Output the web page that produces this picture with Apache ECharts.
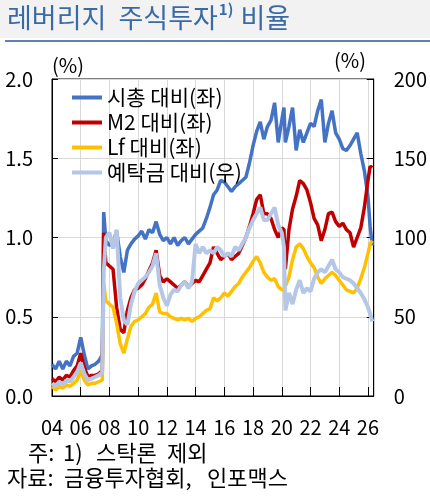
<!DOCTYPE html>
<html>
<head>
<meta charset="utf-8">
<script src="https://cdn.jsdelivr.net/npm/echarts@6/dist/echarts.min.js"></script>
<style>
html,body{margin:0;padding:0;background:#fff;}
#c{width:430px;height:499px;}
</style>
</head>
<body>
<div id="c"></div>
<script>
var dates = [
 2004.0,2004.25,2004.5,2004.75,
 2005.0,2005.25,2005.5,2005.75,
 2006.0,2006.25,2006.5,2006.75,
 2007.0,2007.25,2007.5,2007.6,2007.75,
 2008.0,2008.25,2008.5,2008.75,
 2009.0,2009.25,2009.5,2009.75,
 2010.0,2010.25,2010.5,2010.75,
 2011.0,2011.25,2011.5,2011.75,
 2012.0,2012.25,2012.5,2012.75,
 2013.0,2013.25,2013.5,2013.75,
 2014.0,2014.25,2014.5,2014.75,
 2015.0,2015.25,2015.5,2015.75,
 2016.0,2016.25,2016.5,2016.75,
 2017.0,2017.25,2017.5,2017.75,
 2018.0,2018.25,2018.5,2018.75,
 2019.0,2019.25,2019.5,2019.75,
 2020.0,2020.15,2020.25,2020.5,2020.75,
 2021.0,2021.25,2021.5,2021.75,
 2022.0,2022.25,2022.5,2022.75,
 2023.0,2023.25,2023.5,2023.75,
 2024.0,2024.25,2024.5,2024.75,
 2025.0,2025.25,2025.5,2025.75,
 2026.0,2026.15,2026.3
];
// 시총 대비(좌), %
var mktCap = [
 0.20,0.17,0.22,0.17,
 0.22,0.19,0.25,0.27,
 0.37,0.26,0.17,0.19,
 0.20,0.22,0.26,1.16,0.98,
 0.95,0.97,1.04,0.88,
 0.78,0.92,0.96,0.99,
 1.01,1.04,0.99,1.05,
 1.03,1.10,1.02,0.98,
 1.00,0.96,1.00,0.95,
 0.98,1.00,0.96,0.99,
 1.02,1.04,1.06,1.12,
 1.19,1.27,1.30,1.36,
 1.35,1.32,1.29,1.32,
 1.34,1.36,1.38,1.47,
 1.58,1.67,1.73,1.62,
 1.70,1.74,1.85,1.60,
 1.74,1.82,1.60,1.70,1.82,
 1.55,1.68,1.60,1.66,
 1.72,1.70,1.80,1.87,
 1.60,1.72,1.80,1.66,
 1.62,1.56,1.55,1.58,
 1.62,1.66,1.53,1.42,
 1.26,1.07,0.95
];
// M2 대비(좌), %
var m2 = [
 0.11,0.09,0.12,0.10,
 0.13,0.12,0.16,0.19,
 0.27,0.18,0.12,0.13,
 0.13,0.14,0.16,1.03,0.84,
 0.82,0.80,0.56,0.42,
 0.40,0.54,0.62,0.67,
 0.68,0.70,0.74,0.79,
 0.84,0.92,0.76,0.72,
 0.74,0.72,0.70,0.68,
 0.70,0.72,0.69,0.71,
 0.73,0.72,0.76,0.80,
 0.84,0.94,0.90,0.86,
 0.88,0.90,0.86,0.88,
 0.90,0.95,1.00,1.07,
 1.15,1.24,1.27,1.15,
 1.15,1.12,1.05,1.00,
 1.06,1.05,0.80,1.05,1.18,
 1.26,1.36,1.34,1.30,
 1.22,1.12,1.08,0.98,
 1.05,1.15,1.16,1.10,
 1.07,1.09,1.05,1.03,
 0.94,1.00,1.06,1.19,
 1.36,1.45,1.44
];
// Lf 대비(좌), %
var lf = [
 0.06,0.04,0.06,0.05,
 0.07,0.06,0.08,0.10,
 0.16,0.10,0.07,0.08,
 0.08,0.09,0.10,0.71,0.60,
 0.58,0.56,0.46,0.33,
 0.27,0.36,0.44,0.47,
 0.48,0.50,0.52,0.56,
 0.58,0.65,0.53,0.52,
 0.52,0.50,0.49,0.48,
 0.49,0.48,0.49,0.47,
 0.49,0.50,0.52,0.54,
 0.55,0.62,0.60,0.62,
 0.65,0.63,0.66,0.69,
 0.71,0.75,0.78,0.81,
 0.85,0.88,0.84,0.78,
 0.75,0.73,0.74,0.69,
 0.67,0.67,0.68,0.75,0.86,
 0.94,0.96,0.93,0.88,
 0.84,0.81,0.75,0.71,
 0.74,0.76,0.78,0.76,
 0.73,0.70,0.67,0.66,
 0.65,0.68,0.74,0.81,
 0.90,0.96,0.98
];
// 예탁금 대비(우), %
var deposit = [
 8,6,9,7,
 10,9,12,15,
 21,14,10,11,
 12,13,15,78,100,
 103,93,105,62,
 48,45,58,66,
 71,73,75,78,
 82,90,70,62,
 57,64,67,66,
 70,72,68,72,
 96,90,94,90,
 92,90,94,92,
 88,90,88,94,
 92,96,100,106,
 111,115,119,111,
 111,115,119,108,
 103,94,54,65,58,
 67,73,65,68,
 66,74,78,80,
 78,82,86,80,
 78,75,74,73,
 71,68,65,61,
 56,52,47
];
var seriesNames = ['시총 대비(좌)','M2 대비(좌)','Lf 대비(좌)','예탁금 대비(우)'];
var seriesColors = ['#4472C4','#C00000','#FFC000','#B4C7E7'];
var noteWords = [['주:',28,442],['1)',63,442],['스탁론',96,442],['제외',167,442]];
var sourceWords = [['자료:',7,467],['금융투자협회,',64,467],['인포맥스',207,467]];

function pairs(arr){ return dates.map(function(d,i){ return [d, arr[i]]; }); }

var FONT = '"Noto Sans CJK KR","Noto Sans",sans-serif';
var chart = echarts.init(document.getElementById('c'), null, {renderer:'canvas'});
var values = [mktCap, m2, lf, deposit];
var series = values.map(function(arr, i){
  return {
    name: seriesNames[i], type:'line', yAxisIndex: i===3 ? 1 : 0,
    data: pairs(arr), showSymbol:false, symbol:'none', smooth:false,
    lineStyle:{color: seriesColors[i], width: i===3 ? 4 : 3.5},
    itemStyle:{color: seriesColors[i]},
    emphasis:{disabled:true}, animation:false, z: 2+i
  };
});

var graphics = [
  {type:'rect', left:0, top:0, shape:{x:0,y:0,width:430,height:38}, style:{fill:'#f2f2f2'}, z:-10},
  {type:'line', shape:{x1:5,y1:41,x2:430,y2:41}, style:{stroke:'#2F5597', lineWidth:1.5}},
  {type:'text', left:7, top:2, style:{
    text:'{a|레버리지  주식투자}{s|1)}{a| 비율}',
    rich:{
      a:{fontSize:27, fill:'#3A6AA5', fontFamily:FONT, lineHeight:32},
      s:{fontSize:15, fontWeight:'bold', fill:'#3A6AA5', fontFamily:FONT, verticalAlign:'top', lineHeight:32, padding:[0,1,12,1]}
    }
  }},
  {type:'text', left:52, top:55, style:{text:'(%)', fontSize:20, fill:'#000', fontFamily:FONT}},
  {type:'text', left:334, top:50, style:{text:'(%)', fontSize:20, fill:'#000', fontFamily:FONT}}
];
noteWords.concat(sourceWords).forEach(function(w){
  graphics.push({type:'text', left:w[1], top:w[2], style:{text:w[0], fontSize:22, fill:'#000', fontFamily:FONT}});
});

chart.setOption({
  animation:false,
  textStyle:{fontFamily:FONT},
  grid:{left:52, right:55, top:79, bottom:103, show:true, borderColor:'#000', borderWidth:1, backgroundColor:'transparent'},
  legend:{
    orient:'vertical', left:67, top:82, itemWidth:30, itemHeight:4, itemGap:4,
    icon:'rect', selectedMode:false,
    textStyle:{fontSize:21, color:'#000', fontFamily:FONT, lineHeight:21},
    data: seriesNames.map(function(n,i){ return {name:n, itemStyle:{color:seriesColors[i]}}; })
  },
  xAxis:{
    type:'value', min:2004, max:2026.4, interval:2,
    axisLine:{show:true, lineStyle:{color:'#000', width:1}},
    axisTick:{show:true, inside:true, length:9, lineStyle:{color:'#000'}},
    splitLine:{show:true, lineStyle:{color:'#d9d9d9', width:1}},
    axisLabel:{margin:21, fontSize:20, color:'#000', fontFamily:FONT,
      formatter:function(v){ if (Math.abs(v - Math.round(v))>1e-6) return ''; var y=Math.round(v)%100; return (y<10?'0':'')+y; }}
  },
  yAxis:[{
    type:'value', min:0, max:2, interval:0.5,
    axisLine:{show:true, lineStyle:{color:'#000'}},
    axisTick:{show:true, inside:true, length:6, lineStyle:{color:'#000'}},
    splitLine:{show:true, lineStyle:{color:'#d9d9d9', width:1}},
    axisLabel:{margin:19, fontSize:20, color:'#000', fontFamily:FONT,
      formatter:function(v){ return v.toFixed(1); }}
  },{
    type:'value', min:0, max:200, interval:50, position:'right',
    axisLine:{show:true, lineStyle:{color:'#000'}},
    axisTick:{show:true, inside:true, length:7, lineStyle:{color:'#000'}},
    splitLine:{show:false},
    axisLabel:{margin:20, fontSize:20, color:'#000', fontFamily:FONT}
  }],
  graphic: graphics,
  series: series
});
</script>
</body>
</html>
